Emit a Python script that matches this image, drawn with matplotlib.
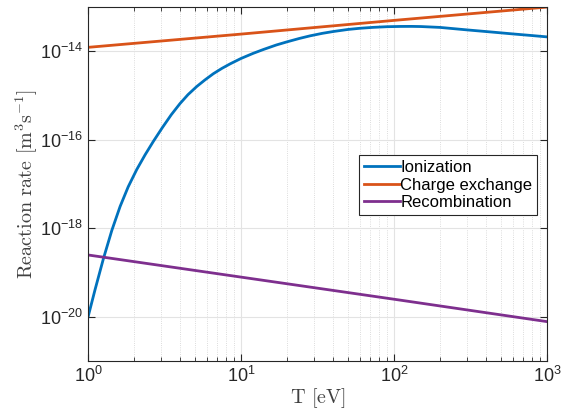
import matplotlib
matplotlib.use('Agg')
import matplotlib.pyplot as plt
from matplotlib.ticker import LogLocator, FixedLocator

plt.rcParams['mathtext.fontset'] = 'custom'
plt.rcParams['mathtext.rm'] = 'cmr10'
plt.rcParams['mathtext.sf'] = 'Liberation Sans'
plt.rcParams['axes.unicode_minus'] = False

# values (T in eV, rates in m^3/s)
T_ion = [1, 1.11, 1.26, 1.43, 1.62, 1.83, 2.08, 2.36, 2.67, 3.05, 3.5, 3.99, 4.5,
         5.13, 5.8, 6.59, 7.5, 8.47, 10, 12, 14, 17, 20, 24, 28.3, 34, 40, 50, 60,
         73, 90, 110, 130, 150, 200, 300, 450, 600, 800, 1000]
k_ion = [1e-20, 4.08e-20, 2.07e-19, 9.0e-19, 3.13e-18, 8.7e-18, 2.13e-17, 4.6e-17,
         9.2e-17, 1.86e-16, 3.7e-16, 6.6e-16, 1.05e-15, 1.6e-15, 2.25e-15, 3.12e-15,
         4.12e-15, 5.19e-15, 6.9e-15, 9.0e-15, 1.1e-14, 1.39e-14, 1.64e-14, 1.95e-14,
         2.24e-14, 2.55e-14, 2.8e-14, 3.12e-14, 3.32e-14, 3.48e-14, 3.6e-14, 3.65e-14,
         3.66e-14, 3.63e-14, 3.47e-14, 3.05e-14, 2.7e-14, 2.47e-14, 2.27e-14, 2.12e-14]

T_cx = [1, 10, 100, 1000]
k_cx = [1.23e-14, 2.45e-14, 5.0e-14, 1.0e-13]

T_rec = [1, 10, 100, 1000]
k_rec = [2.5e-19, 7.9e-20, 2.5e-20, 7.8e-21]

yticks = [1e-20, 1e-18, 1e-16, 1e-14]
ytick_labels = [r'$\mathsf{10^{-20}}$', r'$\mathsf{10^{-18}}$',
                r'$\mathsf{10^{-16}}$', r'$\mathsf{10^{-14}}$']
xticks = [1, 10, 100, 1000]
xtick_labels = [r'$\mathsf{10^{0}}$', r'$\mathsf{10^{1}}$',
                r'$\mathsf{10^{2}}$', r'$\mathsf{10^{3}}$']

fig = plt.figure(figsize=(5.61, 4.16), dpi=100)
ax = fig.add_axes([0.157, 0.132, 0.818, 0.851])

ax.plot(T_ion, k_ion, color='#0072BD', lw=2, label='Ionization')
ax.plot(T_cx, k_cx, color='#D95319', lw=2, label='Charge exchange')
ax.plot(T_rec, k_rec, color='#7E2F8E', lw=2, label='Recombination')

ax.set_xscale('log')
ax.set_yscale('log')
ax.set_xlim(1, 1000)
ax.set_ylim(1e-21, 1e-13)

ax.set_xticks(xticks)
ax.set_xticklabels(xtick_labels)
ax.xaxis.set_minor_locator(LogLocator(base=10, subs=range(2, 10)))
ax.set_yticks(yticks)
ax.set_yticklabels(ytick_labels)
ax.yaxis.set_minor_locator(FixedLocator([]))

ax.tick_params(which='both', direction='in', top=True, right=True,
               colors='#262626', labelsize=13)
ax.tick_params(which='major', length=5, width=0.8)
ax.tick_params(which='minor', length=3, width=0.6)
for s in ax.spines.values():
    s.set_color('#262626')
    s.set_linewidth(0.8)

ax.grid(which='major', color='#e3e3e3', lw=0.8)
ax.grid(which='minor', axis='x', color='#d0d0d0', lw=0.6, linestyle=':')
ax.set_axisbelow(True)

ax.set_xlabel(r'$\mathrm{T\ [eV]}$', fontsize=14.5, color='#404040', labelpad=0)
ax.set_ylabel(r'$\mathrm{Reaction\ rate\ [m^3s^{-1}]}$', fontsize=14.5,
              color='#404040', labelpad=0)

leg = ax.legend(loc='upper left', bbox_to_anchor=(0.590, 0.582),
                prop={'family': 'Liberation Sans', 'size': 12},
                fancybox=False, edgecolor='#262626', framealpha=1,
                handlelength=2.15, handletextpad=0.05, borderpad=0.3,
                labelspacing=0.15, borderaxespad=0)
leg.get_frame().set_linewidth(0.8)

fig.savefig('out.png', dpi=100)
